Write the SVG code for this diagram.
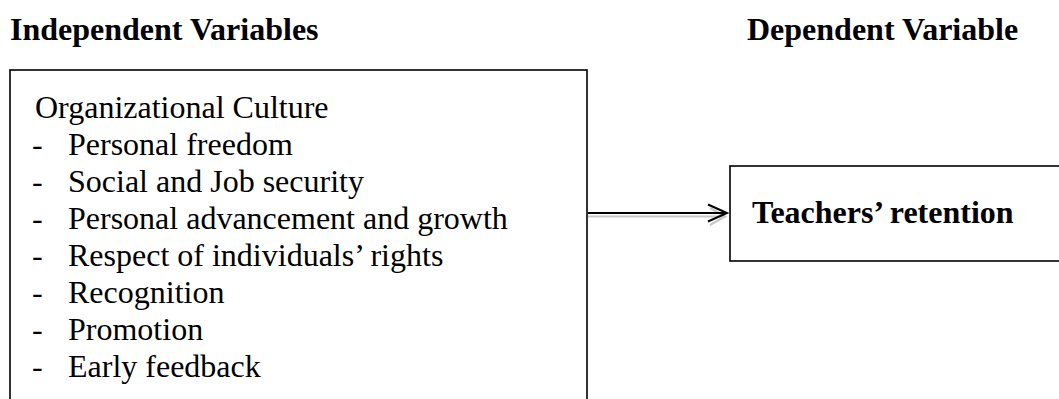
<svg xmlns="http://www.w3.org/2000/svg" width="1059" height="399" viewBox="0 0 1059 399">
<style>
.t{font-family:"Liberation Serif","Times New Roman",serif;font-size:32px;fill:#000}
.b{font-weight:bold}
.box{fill:#fff;stroke:#000;stroke-width:1.6}
.ln{fill:none;stroke:#000;stroke-width:2}
.sh{fill:none;stroke:#c8c8c8;stroke-width:2.2}
</style>
<rect width="1059" height="399" fill="#fff"/>
<text class="t b" x="10" y="40">Independent Variables</text>
<text class="t b" x="747" y="40">Dependent Variable</text>
<g id="independent">
<rect class="box" x="10" y="70" width="577" height="340"/>
<text class="t" x="35" y="118">Organizational Culture</text>
<g class="t">
<text x="32" y="155">-</text><text x="68" y="155">Personal freedom</text>
<text x="32" y="192">-</text><text x="68" y="192">Social and Job security</text>
<text x="32" y="229">-</text><text x="68" y="229">Personal advancement and growth</text>
<text x="32" y="266">-</text><text x="68" y="266">Respect of individuals’ rights</text>
<text x="32" y="303">-</text><text x="68" y="303">Recognition</text>
<text x="32" y="340">-</text><text x="68" y="340">Promotion</text>
<text x="32" y="377">-</text><text x="68" y="377">Early feedback</text>
</g>
</g>
<g id="dependent">
<rect class="box" x="730" y="166" width="340" height="95"/>
<text class="t b" x="752" y="223">Teachers’ retention</text>
</g>
<g id="connectors">
<path class="sh" d="M588 216.5 H723 M710 208 L725 216.5 L710 225"/>
<path class="ln" d="M588 213 H727 M708 204.5 L727 213 L708 221.5"/>
</g>
</svg>
